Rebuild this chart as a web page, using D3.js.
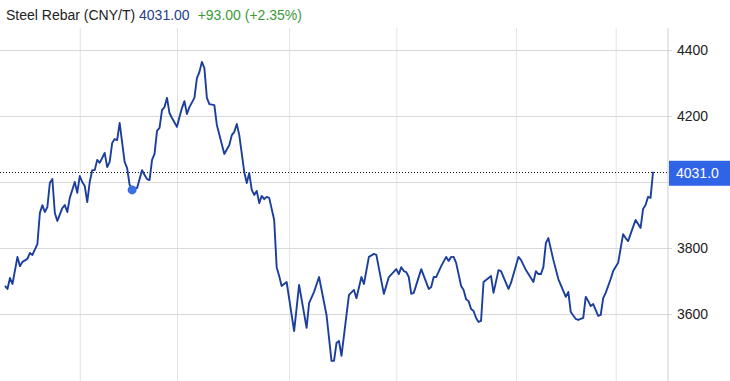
<!DOCTYPE html>
<html>
<head>
<meta charset="utf-8">
<title>Steel Rebar</title>
<script src="https://cdn.jsdelivr.net/npm/d3@7"></script>
<style>
    html, body { margin: 0; padding: 0; background: #fff; }
    svg { display: block; font-family: "Liberation Sans", Arial, sans-serif; }
</style>
</head>
<body>
<svg id="chart" width="730" height="381"></svg>
<script>
(function () {

    // Trading day index (0 = first session shown) and settle price CNY/T
    var days = [0, 1, 2, 3, 5, 6, 7, 9, 10, 11, 13, 14, 15, 16, 17, 18, 19, 20, 21, 23,
        24, 25, 26, 28, 29, 30, 31, 32, 33, 34, 35, 36, 37, 38, 40, 41, 42, 43, 44, 45,
        46, 48, 49, 50, 51, 52, 53, 55, 56, 57, 58, 59, 60, 61, 62, 63, 64, 65, 66, 67,
        69, 70, 71, 72, 73, 74, 76, 77, 78, 79, 80, 81, 82, 84, 85, 88, 90, 91, 92, 93,
        94, 96, 97, 98, 99, 100, 101, 102, 103, 104, 105, 106, 108, 109, 110, 111, 113, 116, 118, 121,
        122, 124, 126, 129, 131, 132, 133, 134, 135, 138, 140, 141, 143, 144, 146, 148, 149, 150, 152, 154,
        157, 158, 159, 160, 161, 162, 163, 164, 167, 170, 171, 172, 173, 175, 177, 178, 179, 180, 181, 183,
        184, 185, 186, 187, 188, 189, 190, 191, 192, 193, 195, 196, 198, 199, 202, 203, 206, 207, 209, 212,
        213, 214, 215, 216, 217, 218, 220, 222, 225, 226, 227, 229, 230, 232, 233, 234, 235, 236, 238, 239,
        240, 241, 243, 244, 246, 248, 249, 250, 252, 253, 255, 256, 257, 258, 259, 260];

    var prices = [3685, 3676, 3709, 3691, 3773, 3745, 3758, 3767, 3785, 3779, 3812, 3906, 3930, 3909, 3924, 3997, 4009, 3906, 3882, 3921,
        3930, 3909, 3952, 4000, 3967, 4018, 4000, 3988, 3939, 4000, 4036, 4036, 4067, 4058, 4088, 4045, 4061, 4118, 4130, 4127,
        4179, 4061, 4042, 3991, 3982, 3979, 3982, 4036, 4021, 4009, 4006, 4067, 4085, 4155, 4164, 4218, 4227, 4255, 4209, 4194,
        4167, 4197, 4224, 4245, 4206, 4227, 4255, 4315, 4333, 4364, 4345, 4255, 4236, 4233, 4173, 4085, 4112, 4142, 4152, 4176,
        4142, 4030, 3997, 4027, 3976, 3961, 3973, 3936, 3958, 3948, 3955, 3952, 3885, 3742, 3715, 3685, 3697, 3548, 3688, 3558,
        3633, 3667, 3712, 3597, 3458, 3458, 3512, 3518, 3473, 3658, 3673, 3648, 3712, 3691, 3773, 3782, 3779, 3739, 3661, 3712,
        3736, 3721, 3742, 3730, 3727, 3712, 3661, 3664, 3736, 3676, 3682, 3712, 3712, 3745, 3773, 3761, 3773, 3773, 3755, 3685,
        3673, 3645, 3639, 3615, 3609, 3588, 3576, 3579, 3697, 3703, 3715, 3664, 3733, 3730, 3676, 3694, 3773, 3764, 3733, 3697,
        3730, 3721, 3721, 3742, 3815, 3830, 3764, 3706, 3652, 3667, 3606, 3585, 3582, 3588, 3652, 3639, 3624, 3630, 3594, 3597,
        3648, 3664, 3706, 3730, 3755, 3842, 3830, 3821, 3864, 3885, 3861, 3918, 3930, 3955, 3952, 4031];

    var priceTicks = [3600, 3800, 4000, 4200, 4400];
    var monthStarts = [30, 69, 114, 157, 205, 245];   // unlabeled vertical gridlines
    var markedDay = 51;                               // highlighted point

    var title = "Steel Rebar (CNY/T)";
    var lastText = "4031.00";
    var changeText = "+93.00 (+2.35%)";
    var lastValue = 4031.0;

    var width = 730, height = 381;
    var plotLeft = 0, plotRight = 668, plotTop = 28, plotBottom = height;

    var svg = d3.select("#chart");

    var x = d3.scaleLinear()
        .domain([-2, 266])
        .range([plotLeft, plotRight]);

    var y = d3.scaleLinear()
        .domain([3600, 4400])
        .range([314, 50]);

    var data = days.map(function (d, i) {
        return { day: d, price: prices[i] };
    });

    // vertical gridlines
    svg.append("g")
        .attr("class", "x grid")
        .attr("transform", "translate(0," + plotBottom + ")")
        .call(d3.axisBottom(x)
            .tickValues(monthStarts)
            .tickSize(-(plotBottom - plotTop))
            .tickFormat(""))
        .call(function (g) {
            g.select(".domain").remove();
            g.selectAll(".tick line").attr("stroke", "#e3e3e3");
        });

    // price axis on the right, gridlines across the plot
    svg.append("g")
        .attr("class", "y axis")
        .attr("transform", "translate(672,0)")
        .call(d3.axisLeft(y)
            .tickValues(priceTicks)
            .tickSize(672)
            .tickPadding(0)
            .tickFormat(d3.format("d")))
        .call(function (g) {
            g.select(".domain").remove();
            g.selectAll(".tick line").attr("stroke", "#d9d9d9");
            g.selectAll(".tick text")
                .attr("x", 5)
                .attr("dy", "0.35em")
                .attr("text-anchor", "start")
                .attr("fill", "#222")
                .style("font-size", "14px");
            // the last price badge sits on this label
            g.selectAll(".tick text")
                .filter(function (d) { return Math.abs(y(d) - y(lastValue)) < 22; })
                .remove();
        });

    // right border of the plot
    svg.append("line")
        .attr("x1", plotRight).attr("x2", plotRight)
        .attr("y1", plotTop).attr("y2", plotBottom)
        .attr("stroke", "#cfcfcf");

    // last price reference line
    svg.append("line")
        .attr("x1", 0).attr("x2", plotRight)
        .attr("y1", Math.round(y(lastValue)) + 0.5).attr("y2", Math.round(y(lastValue)) + 0.5)
        .attr("stroke", "#111")
        .attr("stroke-dasharray", "1,2");

    var line = d3.line()
        .x(function (d) { return x(d.day); })
        .y(function (d) { return y(d.price); });

    svg.append("path")
        .datum(data)
        .attr("fill", "none")
        .attr("stroke", "#1c3f9e")
        .attr("stroke-width", 1.9)
        .attr("stroke-linejoin", "round")
        .attr("d", line);

    var marked = data.filter(function (d) { return d.day === markedDay; })[0];
    svg.append("circle")
        .attr("cx", x(marked.day))
        .attr("cy", y(marked.price) + 2)
        .attr("r", 4.5)
        .attr("fill", "#3b6fe6");

    // last price badge
    var badge = svg.append("g")
        .attr("transform", "translate(669," + (y(lastValue) - 11) + ")");
    badge.append("rect")
        .attr("width", width - 669)
        .attr("height", 25)
        .attr("fill", "#2f64e6");
    badge.append("text")
        .attr("x", 7)
        .attr("y", 12.5)
        .attr("dy", "0.35em")
        .attr("fill", "#fff")
        .style("font-size", "14px")
        .text(d3.format(".1f")(lastValue));

    // header
    var head = svg.append("text")
        .attr("x", 6)
        .attr("y", 20)
        .style("font-size", "14px");
    head.append("tspan").attr("fill", "#222").text(title + " ");
    head.append("tspan").attr("fill", "#27408b").text(lastText);
    head.append("tspan").attr("fill", "#3a9a3a").attr("dx", 8).text(changeText);

})();
</script>
</body>
</html>
